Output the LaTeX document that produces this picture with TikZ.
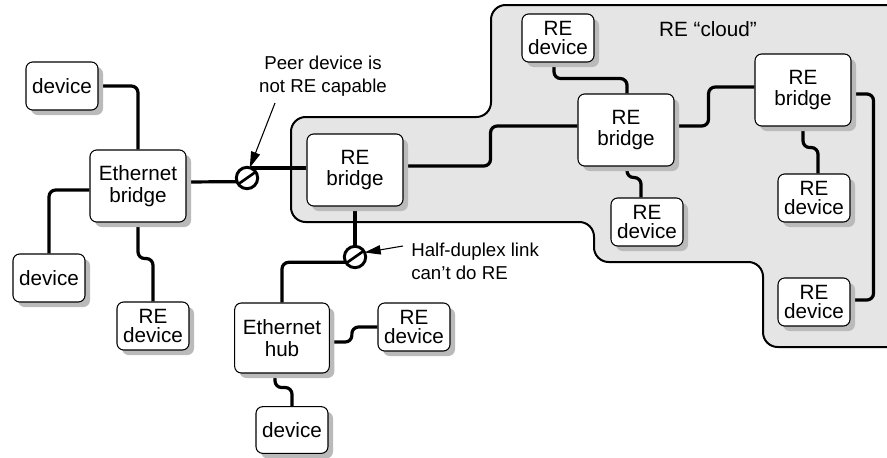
\documentclass[tikz,border=0pt]{standalone}
\usepackage{fontspec}
\setmainfont{Liberation Sans}
\usetikzlibrary{shadows,calc,arrows.meta}
\pgfdeclarelayer{cloudlayer}
\pgfdeclarelayer{linklayer}
\pgfsetlayers{cloudlayer,linklayer,main}
\begin{document}
\begin{tikzpicture}[x=0.75pt,y=-0.75pt,
  boxbase/.style={draw, line width=0.8pt, fill=white, rounded corners=5pt, inner sep=0pt, align=center,
    drop shadow={shadow xshift=3.75pt, shadow yshift=-3.75pt, fill=black!27, opacity=1}},
  devbox/.style={boxbase, font=\fontsize{15.5}{14}\selectfont, minimum width=54pt, minimum height=36pt},
  bridgebox/.style={boxbase, font=\fontsize{15.5}{16}\selectfont, minimum width=72pt, minimum height=54pt},
  blocker/.style={circle, draw, line width=2.2pt, fill=white, minimum size=16pt, inner sep=0pt, outer sep=0pt},
  link/.style={line width=2.4pt, rounded corners=5pt},
  pointer/.style={line width=0.8pt, -{Triangle[length=12pt,width=7pt]}},
  notetext/.style={font=\fontsize{14}{17}\selectfont, inner sep=0pt},
  cloudtext/.style={font=\fontsize{15.5}{18}\selectfont, inner sep=0pt}]
\clip (0,0) rectangle (887,457);
% cloud
\begin{pgfonlayer}{cloudlayer}
\draw[line width=1.5pt, fill=black!10, rounded corners=11pt]
  (291,170) -- (291,117) -- (491,117) -- (491,5) -- (905,5) -- (905,347) -- (763,347)
  -- (763,262) -- (594,262) -- (594,222) -- (291,222) -- cycle;
\end{pgfonlayer}
\node[cloudtext] (cloudlbl) at (708,29) {RE “cloud”};
% nodes
\node[devbox] (dev1) at (62,86) {device};
\node[bridgebox] (eb) at (138,186) {Ethernet\\bridge};
\node[devbox] (dev2) at (49,278) {device};
\node[devbox] (redev1) at (153,326) {RE\\device};
\node[blocker] (c1) at (247,178) {};
\node[bridgebox] (reb1) at (355,170) {RE\\bridge};
\node[blocker] (c2) at (355,257) {};
\node[bridgebox, minimum width=71pt, minimum height=52.5pt] (hub) at (282,338) {Ethernet\\hub};
\node[devbox] (redev2) at (414,327) {RE\\device};
\node[devbox, minimum height=35pt] (dev3) at (292,430) {device};
\node[devbox] (redev3) at (558,38) {RE\\device};
\node[bridgebox] (reb2) at (626,130) {RE\\bridge};
\node[bridgebox] (reb3) at (803,90) {RE\\bridge};
\node[devbox] (redev4) at (647,222) {RE\\device};
\node[devbox] (redev5) at (814,198) {RE\\device};
\node[devbox] (redev6) at (814,302) {RE\\device};
% links
\begin{pgfonlayer}{linklayer}
\draw[link] (dev1.east) -| (eb.north);
\draw[link] ($(eb.west)+(0,4)$) -| (dev2.north);
\draw[link] (eb.south) -- ++(0,36) -| (redev1.north);
\draw[link] ($(eb.east)+(0,-4)$) -- (c1.200);
\draw[link] (c1.70) -- (c1.70 -| reb1.west);
\draw[link] (reb1.south) -- (c2.north);
\draw[link] (c2.210) -| (hub.north);
\draw[link] ($(hub.east)+(0,4)$) -- ++(22,0) |- (redev2.west);
\draw[link] ($(hub.south)+(-7,0)$) -- ++(0,14) -| (dev3.north);
\draw[link] ($(reb1.east)+(0,-4)$) -- ++(87,0) |- ($(reb2.west)+(0,-4)$);
\draw[link] ($(reb2.east)+(0,-4)$) -- ++(34,0) |- ($(reb3.west)+(0,-3)$);
\draw[link] ($(redev3.south)+(-4,0)$) -- ++(0,16) -| ($(reb2.north)+(1,0)$);
\draw[link] ($(reb2.south)+(1,0)$) -- ++(0,11) -| ($(redev4.north)+(-6,0)$);
\draw[link] (reb3.south) -- ++(0,21) -| ($(redev5.north)+(4,0)$);
\draw[link] ($(reb3.east)+(0,4)$) -- ++(22,0) |- ($(redev6.east)+(0,-2)$);
\end{pgfonlayer}
% blocker slashes
\draw[line width=2pt] (c1.215) -- (c1.35);
\draw[line width=2pt] (c2.215) -- (c2.35);
% annotations
\node[notetext, align=center] (t1) at (323,76) {Peer device is\\not RE capable};
\node[notetext, align=left, anchor=west] (t2) at (411,261) {Half-duplex link\\can’t do RE};
\coordinate (a1) at (275,103);
\coordinate (a2) at (403,246);
\draw[pointer] (a1) -- (c1.75);
\draw[pointer] (a2) -- (c2.25);
\end{tikzpicture}
\end{document}
